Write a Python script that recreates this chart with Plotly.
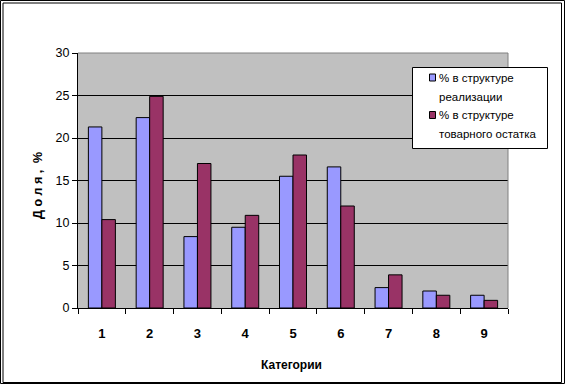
import plotly.graph_objects as go

categories = ["1", "2", "3", "4", "5", "6", "7", "8", "9"]
sales_share = [21.3, 22.4, 8.4, 9.5, 15.5, 16.6, 2.4, 2.0, 1.5]
stock_share = [10.4, 24.9, 17.0, 10.9, 18.0, 12.0, 3.9, 1.5, 0.9]
series_names = [["% в структуре", "реализации"], ["% в структуре", "товарного остатка"]]
series_colors = ["#9999FF", "#993366"]

W, H = 565, 385
L, R, T, B = 78, 508, 53, 308
FONT = "Arial, Liberation Sans"

def px(x):
    return (x - L) / (R - L)

def py(y):
    return (B - y) / (B - T)

fig = go.Figure()
for vals, names, col in zip([sales_share, stock_share], series_names, series_colors):
    fig.add_trace(go.Bar(x=categories, y=vals, name=" ".join(names),
                         marker=dict(color=col, line=dict(color="black", width=1))))

shapes = [
    dict(type="path", xref="paper", yref="paper",
         path="M 0 1 L 1 1 L 1 0", line=dict(color="#808080", width=1), layer="above"),
    dict(type="rect", xref="paper", yref="paper",
         x0=px(0.5), x1=px(564.5), y0=py(383.5), y1=py(0.5),
         line=dict(color="black", width=1)),
    dict(type="rect", xref="paper", yref="paper",
         x0=px(3), x1=px(561.5), y0=py(382.5), y1=py(3),
         line=dict(color="black", width=1)),
    # legend box
    dict(type="rect", xref="paper", yref="paper",
         x0=px(412.5), x1=px(547.5), y0=py(148.5), y1=py(67.5),
         line=dict(color="black", width=1), fillcolor="white", layer="above"),
]
annotations = [
    dict(text="<b>Д о л я ,  %</b>", xref="paper", yref="paper",
         x=px(38), y=py(186), xanchor="center", yanchor="middle",
         textangle=-90, showarrow=False, font=dict(size=12.5, family=FONT)),
    dict(text="<b>Категории</b>", xref="paper", yref="paper",
         x=px(291), y=py(365), xanchor="center", yanchor="middle",
         showarrow=False, font=dict(size=12, family=FONT)),
]
legend_rows = [(77.5, 78, 97), (115, 115, 134)]
for (sq_y, l1, l2), names, col in zip(legend_rows, series_names, series_colors):
    shapes.append(dict(type="rect", xref="paper", yref="paper",
                       x0=px(429.5), x1=px(435.5), y0=py(sq_y + 3.5), y1=py(sq_y - 3.5),
                       line=dict(color="black", width=1), fillcolor=col, layer="above"))
    for txt, yy in zip(names, (l1, l2)):
        annotations.append(dict(text=txt, xref="paper", yref="paper",
                                x=px(437), y=py(yy), xanchor="left", yanchor="middle",
                                showarrow=False, font=dict(size=11.5, family=FONT)))

fig.update_layout(
    width=W, height=H,
    margin=dict(l=L, r=W - R, t=T, b=H - B),
    paper_bgcolor="white",
    plot_bgcolor="#C0C0C0",
    barmode="group",
    bargap=0.435,
    bargroupgap=0,
    font=dict(family=FONT, size=12, color="black"),
    showlegend=False,
    shapes=shapes,
    annotations=annotations,
)

fig.update_xaxes(
    type="category", tickson="boundaries", ticks="outside", ticklen=5,
    tickcolor="black", showline=True, linecolor="black", linewidth=1,
    showgrid=False, tickfont=dict(size=13, family=FONT, weight="bold"),
    ticklabelstandoff=13,
)
fig.update_yaxes(
    range=[0, 30], dtick=5, ticks="outside", ticklen=5, tickcolor="black",
    showline=True, linecolor="black", linewidth=1,
    showgrid=True, gridcolor="black", gridwidth=1, zeroline=False,
    tickfont=dict(size=12.5, family=FONT),
)

fig.write_html(
    "out.html",
    config={"displayModeBar": False},
    post_script="document.body.style.margin='0';document.body.style.overflow='hidden';",
)
